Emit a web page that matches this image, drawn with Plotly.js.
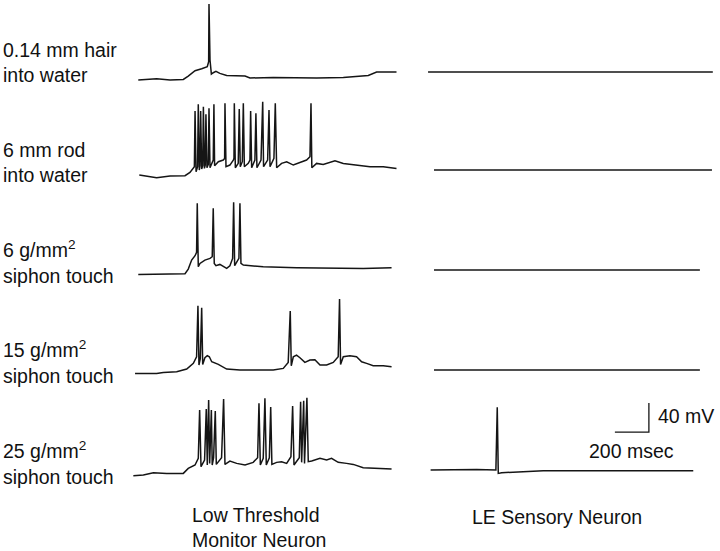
<!DOCTYPE html>
<html>
<head>
<meta charset="utf-8">
<script src="https://cdn.plot.ly/plotly-3.0.1.min.js"></script>
<style>
  body { margin: 0; background: #fff; }
  #plt { width: 720px; height: 551px; }
</style>
</head>
<body>
<div id="plt"></div>
<script>
// time in msec, voltage in mV above the resting level of each row
var rowLabels = ['0.14 mm hair<br>into water', '6 mm rod<br>into water',
  '6 g/mm<sup>2</sup><br>siphon touch', '15 g/mm<sup>2</sup><br>siphon touch',
  '25 g/mm<sup>2</sup><br>siphon touch'];
var colLabels = ['Low Threshold<br>Monitor Neuron', 'LE Sensory Neuron'];

// Low threshold monitor neuron
var hairT = [31, 139, 218, 296, 325, 365, 404, 437, 445, 447, 453, 461, 472, 488, 511, 551, 659, 688, 825, 963, 1080, 1237, 1335, 1384, 1433, 1492, 1550];
var hairV = [0, 1.7, 0, 0.8, 5.4, 12.8, 15.5, 18.3, 25.2, 104.8, 27.5, 8.2, 10, 11.9, 9.1, 6.3, 5.4, 2.7, 3.6, 2.7, 2.7, 3.6, 5.4, 6.3, 10.9, 10.9, 10.9];

var rodT = [37, 139, 218, 306, 335, 355, 361, 365, 371, 380, 384, 390, 394, 398, 404, 410, 414, 420, 425, 429, 435, 443, 447, 453, 472, 476, 480,
  502, 531, 539, 541, 547, 570, 590, 594, 596, 602, 619, 625, 631, 643, 649, 655, 678, 688, 692, 698, 717, 723, 729, 753, 763, 768,
  792, 800, 806, 829, 837, 845, 874, 904, 943, 982, 1021, 1041, 1047, 1052, 1080, 1119, 1188, 1237, 1315, 1394, 1472, 1550];
var rodV = [1.3, -2.4, 0, 0.4, 5, 11.4, 12.8, 89.6, 5.9, 12.8, 98.8, 8.2, 14.2, 89.6, 9.6, 14.2, 95.6, 10.5, 15.1, 85, 11.4, 16, 93.3, 11.4, 22, 98.8, 14.2,
  19.7, 22, 24.3, 100.2, 12.8, 15.1, 22, 24.3, 100.2, 11.4, 17.4, 92.4, 12.8, 19.7, 100.2, 12.8, 17.4, 22, 89.6, 11.4, 22, 86.4, 11.4, 22, 102.5, 12.8,
  22, 91, 12.8, 24.3, 100.2, 11.4, 17.4, 19.7, 15.1, 18.3, 22, 26.6, 100.2, 11.4, 17.4, 16, 21.1, 17.4, 15.1, 12.8, 12.8, 10.5];

var touch6T = [31, 178, 306, 325, 345, 365, 374, 378, 384, 394, 423, 453, 466, 472, 478, 488, 511, 551, 570, 586, 592, 598, 610, 623, 629, 635, 649, 766, 962, 1158, 1354, 1521];
var touch6V = [0.8, 0.8, 1.7, 8.2, 20.6, 26.6, 31.2, 98.8, 11.4, 16, 20.6, 22.9, 25.2, 91.9, 16, 12.8, 14.6, 9.1, 12.8, 22.9, 100.2, 12.8, 18.3, 22.9, 98.8, 16, 13.7, 11.4, 10, 9.1, 9.1, 10];

var touch15T = [12, 139, 178, 257, 316, 355, 374, 382, 388, 396, 404, 410, 423, 437, 449, 463, 502, 551, 629, 727, 825, 884, 913, 925, 931, 943, 962, 982,
  1011, 1041, 1070, 1100, 1139, 1178, 1207, 1215, 1221, 1237, 1276, 1315, 1345, 1374, 1413, 1472, 1521];
var touch15V = [2.2, 2.2, 3.6, 4.5, 8.2, 16, 25.2, 95.6, 13.7, 22.9, 92.8, 14.6, 23.8, 26.6, 25.2, 18.3, 14.6, 8.2, 6.8, 6.8, 6.8, 9.1, 17.4, 88.2, 12.8, 25.2, 27.5, 23.8,
  17.4, 20.6, 21.1, 13.7, 13.7, 17.4, 25.2, 104.8, 14.6, 25.2, 26.6, 25.2, 18.3, 16, 12.8, 12.8, 11.4];

var touch25T = [2, 61, 120, 198, 296, 325, 365, 384, 392, 400, 421, 431, 437, 445, 451, 461, 466, 474, 484, 490, 521, 533, 541, 570, 610, 659, 707, 733, 741, 749,
  766, 776, 784, 802, 810, 817, 845, 874, 904, 929, 939, 947, 978, 986, 992, 1004, 1009, 1023, 1031, 1051, 1100, 1139, 1168, 1207, 1256, 1296, 1354, 1433, 1521];
var touch25V = [1.8, 2.7, 5.9, 5, 5, 11.9, 16.5, 25.7, 92.4, 14.2, 23.4, 93.8, 16.5, 106.2, 18.8, 92.4, 16.5, 26.6, 91, 17.4, 26.6, 107.6, 17.4, 22, 18.8, 16.5, 20.2, 26.6, 101.6, 16.5,
  25.7, 108.5, 16.5, 26.6, 96.5, 17.4, 20.2, 21.1, 18.8, 28, 97.9, 16.5, 26.6, 103.9, 20.2, 105.3, 18.8, 109.4, 21.1, 22, 25.7, 23.4, 25.7, 20.2, 18.8, 17.4, 12.8, 11.9, 11];

// LE sensory neuron
var leHairT = [18, 600, 1200, 1693];
var leHairV = [11, 11.2, 11, 11];
var leRodT = [53, 600, 1200, 1688];
var leRodV = [8.3, 8.5, 8.3, 8.3];
var le6T = [53, 600, 1200, 1617];
var le6V = [6.9, 6.9, 7.1, 6.9];
var le15T = [53, 600, 1200, 1617];
var le15V = [6.9, 7.1, 6.9, 6.9];
var le25T = [33, 304, 417, 425, 431, 451, 696, 1088, 1578];
var le25V = [9.6, 10.5, 9.6, 96.1, 5, 5.9, 8.7, 8.7, 8.7];

// calibration bar: 200 msec, 40 mV
var barT = [1117, 1317, 1317];
var barV = [62, 62, 102];

var W = 720, H = 551;
var mvPx = 0.725;          // px per mV
var msPx = 0.17;           // px per msec
var rowBase = [80, 176, 275, 375, 477];

function px(x) { return x / W; }
function py(y) { return 1 - y / H; }

var leftT = [hairT, rodT, touch6T, touch15T, touch25T];
var leftV = [hairV, rodV, touch6V, touch15V, touch25V];
var rightT = [leHairT, leRodT, le6T, le15T, le25T];
var rightV = [leHairV, leRodV, le6V, le15V, le25V];

var line = { color: '#151515', width: 1.5 };
var data = [];
var layout = {
  width: W, height: H,
  margin: { l: 0, r: 0, t: 0, b: 0 },
  paper_bgcolor: '#fff', plot_bgcolor: 'rgba(0,0,0,0)',
  showlegend: false,
  font: { family: 'Liberation Sans, Arial, sans-serif', color: '#111', size: 19.5 },
  xaxis: { visible: false, domain: [px(133), px(403)], range: [0, 270 / msPx], anchor: 'y5' },
  xaxis2: { visible: false, domain: [px(425), px(715)], range: [0, 290 / msPx], anchor: 'y5' },
  annotations: []
};

for (var i = 0; i < 5; i++) {
  var b = rowBase[i];
  var rowTop = Math.max(0, b - 82), rowBot = b + 12;
  var yk = i === 0 ? 'yaxis' : 'yaxis' + (i + 1);
  layout[yk] = { visible: false, domain: [py(rowBot), py(rowTop)],
    range: [-(rowBot - b) / mvPx, (b - rowTop) / mvPx], anchor: 'x' };
  var yref = i === 0 ? 'y' : 'y' + (i + 1);
  data.push({ x: leftT[i], y: leftV[i], xaxis: 'x', yaxis: yref, type: 'scatter', mode: 'lines', line: line, hoverinfo: 'skip' });
  data.push({ x: rightT[i], y: rightV[i], xaxis: 'x2', yaxis: yref, type: 'scatter', mode: 'lines', line: line, hoverinfo: 'skip' });
}
data.push({ x: barT, y: barV, xaxis: 'x2', yaxis: 'y5', type: 'scatter', mode: 'lines',
  line: { color: '#151515', width: 1.3 }, hoverinfo: 'skip' });

var labelY = [62, 162, 262, 362, 463];
for (var j = 0; j < 5; j++) {
  layout.annotations.push({ text: rowLabels[j], xref: 'paper', yref: 'paper', x: px(1), y: py(labelY[j]),
    xanchor: 'left', yanchor: 'middle', align: 'left', showarrow: false });
}
layout.annotations.push({ text: colLabels[0], xref: 'paper', yref: 'paper', x: px(190), y: py(527),
  xanchor: 'left', yanchor: 'middle', align: 'left', showarrow: false });
layout.annotations.push({ text: colLabels[1], xref: 'paper', yref: 'paper', x: px(470), y: py(517),
  xanchor: 'left', yanchor: 'middle', align: 'left', showarrow: false });
layout.annotations.push({ text: '40 mV', xref: 'paper', yref: 'paper', x: px(656), y: py(416),
  xanchor: 'left', yanchor: 'middle', showarrow: false });
layout.annotations.push({ text: '200 msec', xref: 'paper', yref: 'paper', x: px(631), y: py(451),
  xanchor: 'center', yanchor: 'middle', showarrow: false });

Plotly.newPlot('plt', data, layout, { staticPlot: true, displayModeBar: false });
</script>
</body>
</html>
